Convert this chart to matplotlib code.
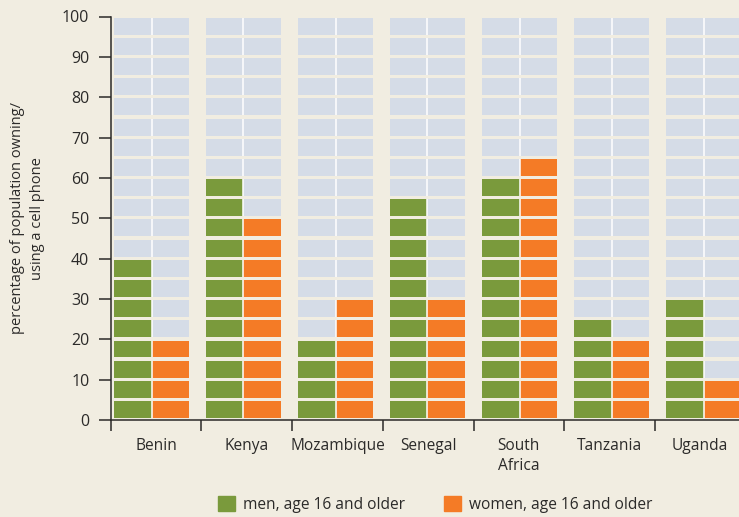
import matplotlib
matplotlib.use("Agg")
from matplotlib import pyplot as plt
from matplotlib.patches import Patch

# cell phone ownership, % of population age 16+
countries = ["Benin", "Kenya", "Mozambique", "Senegal", "South\nAfrica", "Tanzania", "Uganda"]
men = [40, 60, 20, 55, 60, 25, 30]
women = [20, 50, 30, 30, 65, 20, 10]

bg = "#f1ede1"
green = "#7a9a3c"
orange = "#f47b26"
grey = "#d5dce7"
ink = "#2b2a29"

plt.rcParams["font.family"] = ["Open Sans", "DejaVu Sans"]

fig = plt.figure(figsize=(7.39, 5.17), dpi=100, facecolor=bg)
ax = fig.add_axes([110.7 / 739, 97 / 517, 628.3 / 739, 403.5 / 517])
ax.set_facecolor(bg)

step = 5          # each block is 5 percentage points
gap = 0.8         # vertical gap between blocks
bar_w = 37.5 / 90.7
group_step = 92 / 90.7
first = 3.3 / 90.7

for i in range(len(countries)):
    x_men = first + i * group_step
    x_women = x_men + bar_w
    for k in range(100 // step):
        y0 = k * step + gap / 2 + 0.1
        h = step - gap
        c_m = green if (k + 1) * step <= men[i] else grey
        c_w = orange if (k + 1) * step <= women[i] else grey
        ax.bar(x_men, h, width=bar_w, bottom=y0, align="edge", color=c_m, linewidth=0)
        ax.bar(x_women, h, width=bar_w, bottom=y0, align="edge", color=c_w, linewidth=0)
        ax.vlines(x_women, y0, y0 + h, color="white", linewidth=1.1)

ax.set_xlim(0, 628.3 / 90.7)
ax.set_ylim(0, 100)

ax.set_yticks(range(0, 101, 10))
ax.tick_params(axis="y", length=8.4, width=1.1, color=ink, labelsize=11.5, labelcolor=ink, pad=7)

ax.set_xticks(range(0, 7))
ax.set_xticklabels([])
ax.set_xticks([i + 0.5 for i in range(len(countries))], minor=True)
ax.set_xticklabels(countries, minor=True, fontsize=11.2, color=ink, va="top", linespacing=1.3)
ax.tick_params(axis="x", which="major", length=8, width=1.1, color=ink, direction="out")
ax.tick_params(axis="x", which="minor", length=0, pad=13)

for side in ["top", "right"]:
    ax.spines[side].set_visible(False)
for side in ["left", "bottom"]:
    ax.spines[side].set_color(ink)
    ax.spines[side].set_linewidth(1.1)

ax.set_ylabel("percentage of population owning/\nusing a cell phone", fontsize=10.5,
              color=ink, linespacing=1.45)
ax.yaxis.set_label_coords(-0.104, 0.5)

handles = [Patch(color=green, label="men, age 16 and older"),
           Patch(color=orange, label="women, age 16 and older")]
fig.legend(handles=handles, loc="center", bbox_to_anchor=(0.589, 0.024), ncol=2,
           frameon=False, fontsize=11.2, handlelength=1.1, handleheight=1.1,
           handletextpad=0.5, columnspacing=2.5, labelcolor=ink,
           borderpad=0, borderaxespad=0)

fig.savefig("out.png", dpi=100, facecolor=bg)
